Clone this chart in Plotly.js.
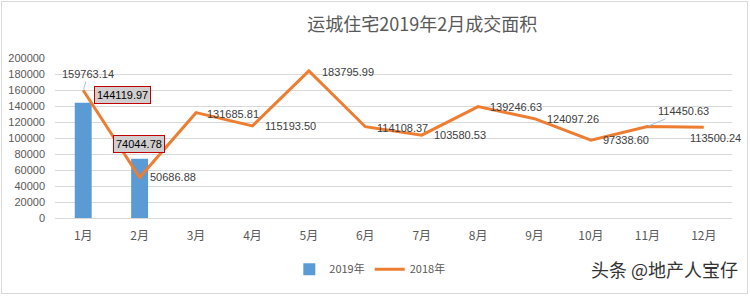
<!DOCTYPE html>
<html>
<head>
<meta charset="utf-8">
<script src="https://cdn.plot.ly/plotly-3.0.1.min.js"></script>
<style>
html,body{margin:0;padding:0;background:#fff;}
#wrap{position:relative;width:750px;height:296px;}
#chart{width:750px;height:296px;}
#frame{position:absolute;left:1px;top:1px;width:745px;height:291px;border:1px solid #d9d9d9;pointer-events:none;}
</style>
</head>
<body>
<div id="wrap"><div id="chart"></div><div id="frame"></div></div>
<script>
const months = ['1月','2月','3月','4月','5月','6月','7月','8月','9月','10月','11月','12月'];
const months2019 = ['1月','2月'];
const values2019 = [144119.97, 74044.78];
const values2018 = [159763.14, 50686.88, 131685.81, 115193.50, 183795.99, 114108.37, 103580.53, 139246.63, 124097.26, 97338.60, 114450.63, 113500.24];
const title = '运城住宅2019年2月成交面积';
const seriesNames = ['2019年','2018年'];
const watermark = '头条 @地产人宝仔';

// label offsets (pixels) for the 2018 line labels: [xshift, yshift]
const lineLabelOffsets = [[-20,15],[8,0],[9,-1],[11,0],[11,-1],[10,-1],[10,0],[10,0],[10,0],[10,0],[10,15],[-16,-11]];
// labels drawn with a leader line: index -> [ax, ay]
const leaderLabels = {0:[5,-16], 10:[36,-15]};
const barLabelOffsets = [[11,8],[-27,15]];

const numFont = 'Liberation Sans, Arial, sans-serif';
const labelFont = {family:numFont, size:11, color:'#404040'};
const annotations = [];
values2018.forEach((v,i)=>{
  if (leaderLabels[i]) {
    annotations.push({
      x: months[i], y: v, xref:'x', yref:'y',
      text: v.toFixed(2), showarrow:true, arrowhead:0, arrowwidth:1,
      arrowcolor:'#9dc3e6', standoff:1,
      ax: leaderLabels[i][0], ay: leaderLabels[i][1],
      xanchor:'center', yanchor:'middle', font: labelFont
    });
  } else {
    annotations.push({
      x: months[i], y: v, xref:'x', yref:'y',
      text: v.toFixed(2), showarrow:false,
      xanchor:'left', yanchor:'middle',
      xshift: lineLabelOffsets[i][0], yshift: lineLabelOffsets[i][1],
      font: labelFont
    });
  }
});
values2019.forEach((v,i)=>{
  annotations.push({
    x: months2019[i], y: v, xref:'x', yref:'y',
    text: v.toFixed(2), showarrow:false,
    xanchor:'left', yanchor:'middle',
    xshift: barLabelOffsets[i][0], yshift: barLabelOffsets[i][1],
    bgcolor:'#d0cece', bordercolor:'#c00000', borderwidth:1, borderpad:2,
    font:{family:numFont, size:11, color:'#000'}
  });
});
annotations.push({
  xref:'paper', yref:'paper', x:1.012, y:-0.32, xanchor:'right', yanchor:'middle',
  text: watermark, showarrow:false,
  font:{family:'Noto Sans CJK SC, sans-serif', size:18, color:'#333'}
});

const traces = [
  {type:'bar', x: months2019, y: values2019, name: seriesNames[0],
   marker:{color:'#5b9bd5'}, width:0.3, hoverinfo:'skip'},
  {type:'scatter', mode:'lines', x: months, y: values2018, name: seriesNames[1],
   line:{color:'#ed7d31', width:3}, hoverinfo:'skip'}
];

const layout = {
  width:750, height:296,
  margin:{l:55, r:18, t:58, b:76},
  paper_bgcolor:'#fff', plot_bgcolor:'#fff',
  title:{text:title, x:0.563, xanchor:'center', y:0.915, yanchor:'middle',
    font:{family:'Noto Sans CJK SC, sans-serif', size:18, color:'#595959'}},
  xaxis:{type:'category', categoryorder:'array', categoryarray: months,
    range:[-0.5,11.5], showgrid:false, zeroline:false, showline:false,
    ticks:'', tickfont:{family:'Noto Sans CJK SC, sans-serif', size:12, color:'#595959'}, ticklabelstandoff:9},
  yaxis:{range:[0,200000], dtick:20000, showgrid:true, gridcolor:'#d9d9d9', gridwidth:1,
    zeroline:true, zerolinecolor:'#d9d9d9', showline:false, ticks:'',
    tickformat:'d', ticklabelstandoff:9,
    tickfont:{family:numFont, size:11, color:'#595959'}},
  showlegend:true,
  legend:{orientation:'h', x:0.465, xanchor:'center', y:-0.32, yanchor:'middle',
    font:{family:'Noto Sans CJK SC, sans-serif', size:11, color:'#595959'}, itemwidth:30},
  annotations: annotations
};

Plotly.newPlot('chart', traces, layout, {staticPlot:true, displayModeBar:false});
</script>
</body>
</html>
